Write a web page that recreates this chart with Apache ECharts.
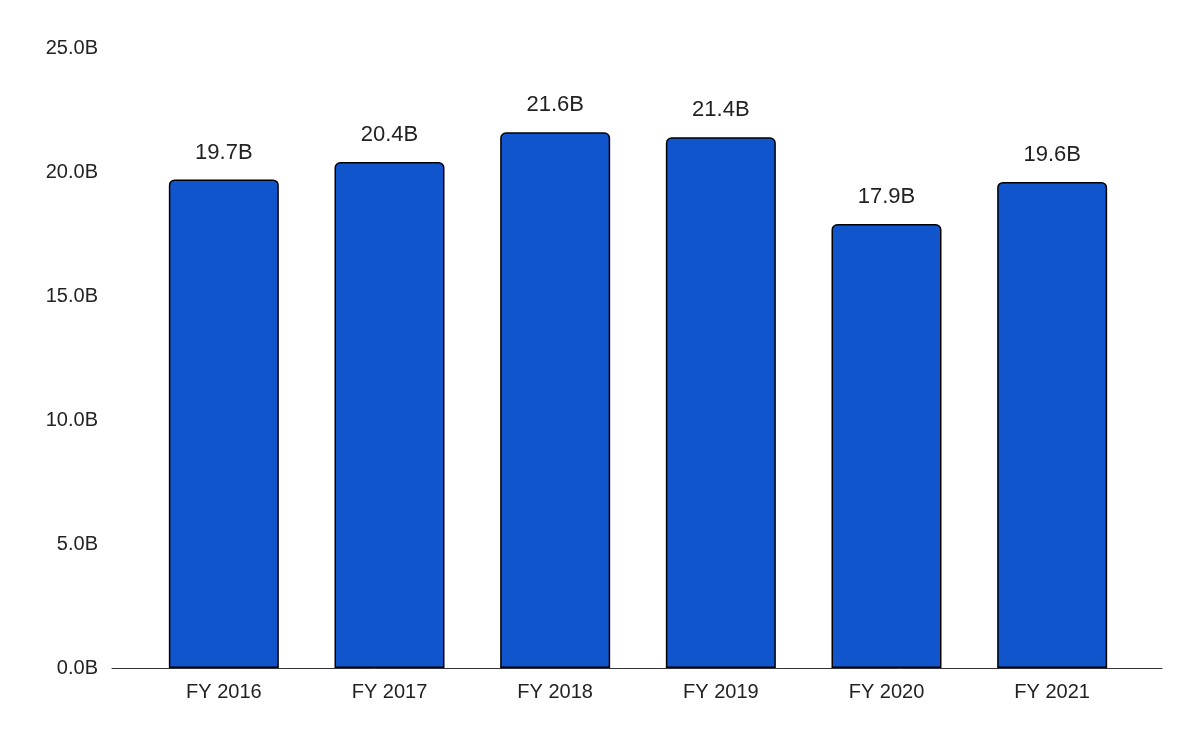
<!DOCTYPE html>
<html><head><meta charset="utf-8">
<script src="https://cdn.jsdelivr.net/npm/echarts@6/dist/echarts.min.js"></script>
<style>html,body{margin:0;padding:0;background:#fff}#c{width:1200px;height:742px}</style>
</head><body><div id="c"></div>
<script>
const categories = ['FY 2016','FY 2017','FY 2018','FY 2019','FY 2020','FY 2021'];
const values = [19.7, 20.4, 21.6, 21.4, 17.9, 19.6];
const FONT = '"Liberation Sans", Arial, sans-serif';
const chart = echarts.init(document.getElementById('c'));
chart.setOption({
  animation: false,
  grid: [
    {left: 141, right: 65, top: 48, bottom: 74, containLabel: false},
    {left: 112, right: 38, top: 48, bottom: 74, containLabel: false}
  ],
  xAxis: [
    {type: 'category', data: categories, gridIndex: 0,
      axisLine: {show: false}, axisTick: {show: false},
      axisLabel: {color: '#222', fontSize: 20, fontFamily: FONT, margin: 14}},
    {type: 'value', gridIndex: 1, min: 0, max: 1,
      axisLine: {lineStyle: {color: '#333', width: 1}}, axisTick: {show: false},
      axisLabel: {show: false}, splitLine: {show: false}}
  ],
  yAxis: [
    {type: 'value', gridIndex: 0, min: 0, max: 25, interval: 5, show: false, splitLine: {show: false}},
    {type: 'value', gridIndex: 1, min: 0, max: 25, interval: 5,
      splitLine: {show: false}, axisLine: {show: false}, axisTick: {show: false},
      axisLabel: {color: '#222', fontSize: 20, fontFamily: FONT, margin: 14,
        formatter: v => v.toFixed(1) + 'B'}}
  ],
  series: [{type: 'bar', data: values, barWidth: 110, xAxisIndex: 0, yAxisIndex: 0,
    itemStyle: {color: '#1155CC', borderColor: '#000', borderWidth: 1.5, borderRadius: [5,5,0,0]},
    label: {show: true, position: 'top', distance: 16, color: '#222', fontSize: 22,
      fontFamily: FONT, formatter: p => p.value.toFixed(1) + 'B'}}]
});
</script></body></html>
